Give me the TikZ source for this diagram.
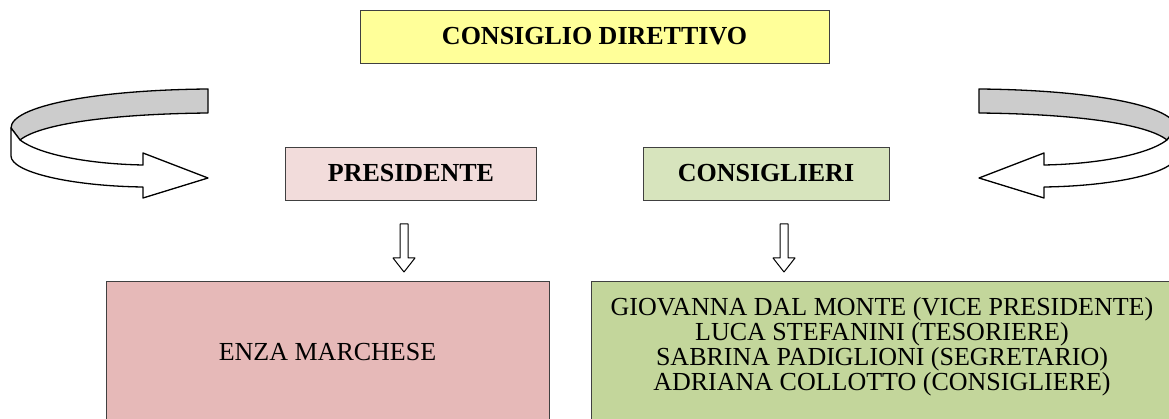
\documentclass[tikz,border=0pt]{standalone}
\usepackage{fontspec}
\setmainfont{Liberation Serif}
\definecolor{cdyellow}{HTML}{FFFF99}
\definecolor{prespink}{HTML}{F2DCDB}
\definecolor{consgreen}{HTML}{D7E4BD}
\definecolor{enzapink}{HTML}{E6B9B8}
\definecolor{listgreen}{HTML}{C3D69B}
\definecolor{bandgray}{HTML}{CCCCCC}
\newcommand\myturnarrow{%
    \draw[outline, fill=bandgray]
      (208,89) .. controls (95,90) and (11,106) .. (11,128)
      -- (20,140) .. controls (40,124) and (110,114) .. (208,113) -- cycle;
    \draw[outline, fill=white]
      (11,128) -- (11,156) .. controls (11,172) and (70,186) .. (143,187)
      -- (143,198) -- (208,178) -- (143,153) -- (143,165)
      .. controls (90,164) and (40,155) .. (20,140) -- cycle;
}
\begin{document}
\begin{tikzpicture}[x=1pt,y=-1pt,
  box/.style={draw=black!75, line width=0.9pt, rectangle, inner sep=0pt,
              font=\fontsize{26}{25}\selectfont},
  headbox/.style={box, font=\fontsize{26}{25}\selectfont\bfseries},
  txt/.style={inner sep=0pt, align=center, font=\fontsize{26}{25}\selectfont},
  outline/.style={draw=black, line width=1.3pt, line join=round}]
\clip (0,0) rectangle (1169,419);
\fill[white] (0,0) rectangle (1169,419);

% boxes
\node[headbox, fill=cdyellow, minimum width=469pt, minimum height=53pt] (cd) at (594.5,36.5) {CONSIGLIO DIRETTIVO};
\node[headbox, fill=prespink, minimum width=251pt, minimum height=53pt] (pres) at (411,173.5) {PRESIDENTE};
\node[headbox, fill=consgreen, minimum width=246pt, minimum height=53pt] (cons) at (766,173.5) {CONSIGLIERI};
\node[box, fill=enzapink, minimum width=443pt, minimum height=142pt] (enza) at (327.5,352) {ENZA MARCHESE};
\node[box, fill=listgreen, minimum width=582pt, minimum height=144pt] (listbox) at (882,353) {};
\node[txt] (list) at (882,347) {GIOVANNA DAL MONTE (VICE PRESIDENTE)\\LUCA STEFANINI (TESORIERE)\\SABRINA PADIGLIONI (SEGRETARIO)\\ADRIANA COLLOTTO (CONSIGLIERE)};

% down block arrows
\draw[outline, line width=1pt, fill=white] (400,224) -- (408,224) -- (408,258) -- (415,258) -- (404,272) -- (393,258) -- (400,258) -- cycle;
\draw[outline, line width=1pt, fill=white] (780,224) -- (788,224) -- (788,258) -- (795,258) -- (784,272) -- (773,258) -- (780,258) -- cycle;

% curved block arrows
\begin{scope}
  \myturnarrow
\end{scope}
\begin{scope}[xshift=1187pt, xscale=-1]
  \myturnarrow
\end{scope}
\end{tikzpicture}
\end{document}
